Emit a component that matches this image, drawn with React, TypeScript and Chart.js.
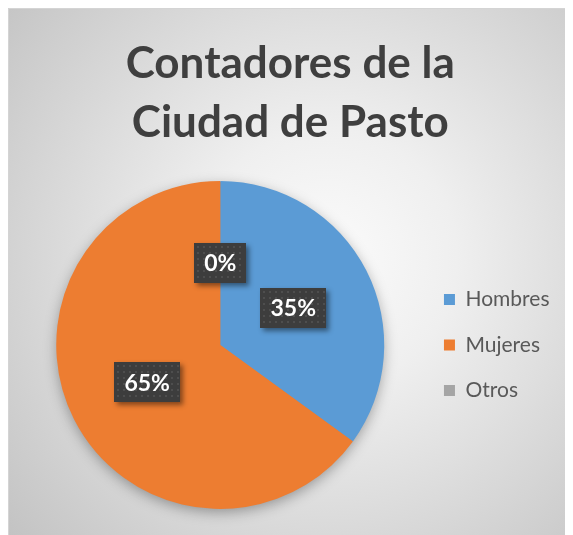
import React, { useEffect, useRef } from "react";
import { Chart, registerables } from "chart.js";

Chart.register(...registerables);

const TITLE_LINES = ["Contadores de la", "Ciudad de Pasto"];
const CATEGORIES = ["Hombres", "Mujeres", "Otros"];
const VALUES = [35, 65, 0];
const COLORS = ["#5B9BD5", "#ED7D31", "#A5A5A5"];

const bgPlugin = {
  id: "bgPlugin",
  beforeDraw(chart: any) {
    const { ctx, width, height } = chart;
    ctx.save();
    const g = ctx.createRadialGradient(320, 250, 0, 320, 250, 430);
    g.addColorStop(0, "#fbfbfb");
    g.addColorStop(0.3, "#efefef");
    g.addColorStop(1, "#c2c2c2");
    ctx.fillStyle = g;
    ctx.fillRect(0, 0, width, height);
    ctx.strokeStyle = "#d4d4d4";
    ctx.lineWidth = 1;
    ctx.beginPath();
    ctx.moveTo(0.5, height);
    ctx.lineTo(0.5, 0.5);
    ctx.lineTo(width, 0.5);
    ctx.stroke();
    ctx.restore();
  },
};

const shadowPlugin = {
  id: "pieShadow",
  beforeDatasetsDraw(chart: any) {
    const meta = chart.getDatasetMeta(0);
    const arc = meta.data[0];
    if (!arc) return;
    const { ctx } = chart;
    ctx.save();
    ctx.shadowColor = "rgba(0,0,0,0.35)";
    ctx.shadowBlur = 14;
    ctx.shadowOffsetX = 0;
    ctx.shadowOffsetY = 4;
    ctx.fillStyle = COLORS[1];
    ctx.beginPath();
    ctx.arc(arc.x, arc.y, arc.outerRadius - 1, 0, Math.PI * 2);
    ctx.fill();
    ctx.restore();
  },
};

const labelPlugin = {
  id: "pctLabels",
  afterDatasetsDraw(chart: any) {
    const { ctx } = chart;
    const meta = chart.getDatasetMeta(0);
    const total = VALUES.reduce((a, b) => a + b, 0);
    ctx.save();
    ctx.font = "bold 23px Lato";
    ctx.textAlign = "center";
    ctx.textBaseline = "middle";
    meta.data.forEach((arc: any, i: number) => {
      const text = Math.round((VALUES[i] / total) * 100) + "%";
      const p = arc.tooltipPosition();
      const tw = ctx.measureText(text).width;
      const w = Math.round(tw + 20);
      const h = 40;
      const x0 = Math.round(p.x - w / 2);
      const y0 = Math.round(p.y - h / 2);
      ctx.save();
      ctx.shadowColor = "rgba(0,0,0,0.45)";
      ctx.shadowBlur = 5;
      ctx.shadowOffsetX = 3;
      ctx.shadowOffsetY = 3;
      ctx.fillStyle = "#3d3d3d";
      ctx.fillRect(x0, y0, w, h);
      ctx.restore();
      ctx.fillStyle = "#4e4e4e";
      for (let yy = y0 + 3; yy < y0 + h - 1; yy += 6) {
        for (let xx = x0 + 3; xx < x0 + w - 1; xx += 6) {
          ctx.fillRect(xx, yy, 2, 2);
        }
      }
      ctx.fillStyle = "#ffffff";
      ctx.fillText(text, p.x, p.y + 1);
    });
    ctx.restore();
  },
};

export default function App() {
  const ref = useRef<HTMLCanvasElement>(null);
  useEffect(() => {
    if (!ref.current) return;
    const chart = new Chart(ref.current, {
      type: "pie",
      data: {
        labels: CATEGORIES,
        datasets: [
          {
            data: VALUES,
            backgroundColor: COLORS,
            borderWidth: 0,
          },
        ],
      },
      options: {
        animation: false,
        responsive: false,
        events: [],
        layout: { padding: { top: 0, left: 13, right: 13.5, bottom: 26 } },
        plugins: {
          tooltip: { enabled: false },
          title: {
            display: true,
            text: TITLE_LINES,
            color: "#3f3f3f",
            font: { family: "Lato", size: 44, weight: "bold", lineHeight: 1.341 },
            padding: { top: 26.3, bottom: 28.7 },
          },
          legend: {
            position: "right",
            fullSize: false,
            labels: {
              color: "#595959",
              font: { family: "Lato", size: 21 },
              boxWidth: 11,
              boxHeight: 11,
              padding: 24.5,
            },
          },
        },
      },
      plugins: [bgPlugin, shadowPlugin, labelPlugin],
    });
    return () => chart.destroy();
  }, []);
  return (
    <div style={{ width: 565, height: 527 }}>
      <canvas ref={ref} width={565} height={527} style={{ display: "block" }} />
    </div>
  );
}
